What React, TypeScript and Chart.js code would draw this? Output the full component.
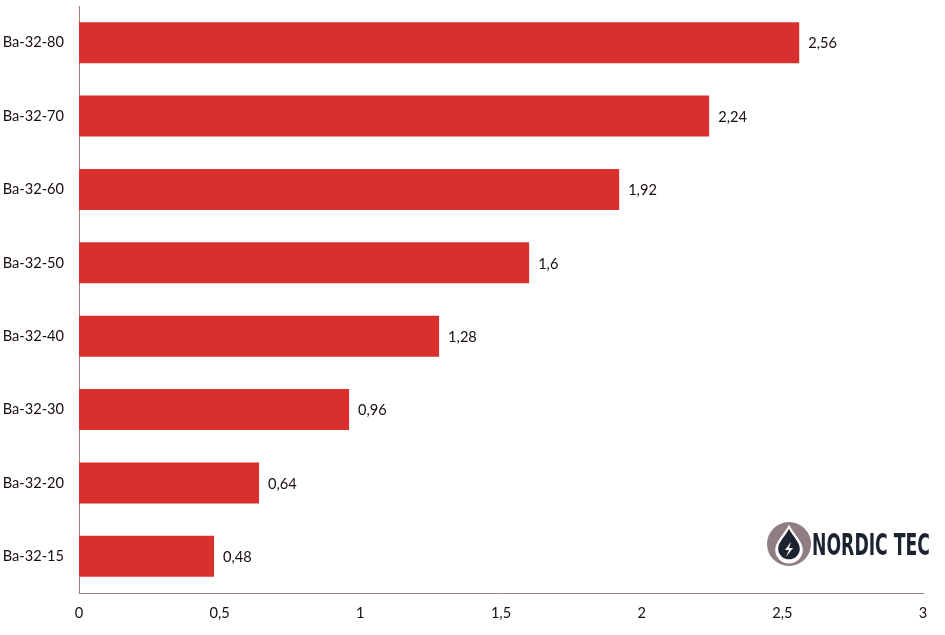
import React, { useEffect, useRef } from "react";
import { Chart, registerables } from "chart.js";

Chart.register(...registerables);

const categories = ["Ba-32-80", "Ba-32-70", "Ba-32-60", "Ba-32-50", "Ba-32-40", "Ba-32-30", "Ba-32-20", "Ba-32-15"];
const values = [2.56, 2.24, 1.92, 1.6, 1.28, 0.96, 0.64, 0.48];
const xMin = 0;
const xMax = 3;
const xStep = 0.5;
const logoText = "NORDIC TEC";

const fmt = (v: number) => String(v).replace(".", ",");

const FONT = "Lato, 'Open Sans', sans-serif";
const FSIZE = 14.6;

const valueLabels = {
  id: "valueLabels",
  afterDatasetsDraw(chart: any) {
    const { ctx } = chart;
    const meta = chart.getDatasetMeta(0);
    ctx.save();
    ctx.font = `${FSIZE}px ${FONT}`;
    ctx.fillStyle = "#1a0e0e";
    ctx.textAlign = "left";
    ctx.textBaseline = "middle";
    meta.data.forEach((bar: any, i: number) => {
      ctx.fillText(fmt(values[i]), bar.x + 9, bar.y + 1);
    });
    ctx.restore();
  },
};

const logo = {
  id: "logo",
  afterDraw(chart: any) {
    const { ctx } = chart;
    ctx.save();
    const cx = 789, cy = 544, r = 22;
    ctx.fillStyle = "#8f7c84";
    ctx.beginPath();
    ctx.arc(cx, cy, r, 0, Math.PI * 2);
    ctx.fill();
    const drop = (s: number, color: string) => {
      ctx.fillStyle = color;
      ctx.beginPath();
      ctx.moveTo(cx, cy - 17 * s);
      ctx.bezierCurveTo(cx + 4 * s, cy - 9 * s, cx + 12 * s, cy - 2 * s, cx + 12 * s, cy + 5 * s);
      ctx.arc(cx, cy + 5 * s, 12 * s, 0, Math.PI, false);
      ctx.bezierCurveTo(cx - 12 * s, cy - 2 * s, cx - 4 * s, cy - 9 * s, cx, cy - 17 * s);
      ctx.fill();
    };
    drop(1.15, "#ffffff");
    drop(0.9, "#1d2230");
    ctx.fillStyle = "#ffffff";
    ctx.beginPath();
    ctx.moveTo(cx + 2, cy - 2);
    ctx.lineTo(cx - 4, cy + 6);
    ctx.lineTo(cx, cy + 6);
    ctx.lineTo(cx - 3, cy + 13);
    ctx.lineTo(cx + 4, cy + 4);
    ctx.lineTo(cx, cy + 4);
    ctx.closePath();
    ctx.fill();
    ctx.font = `bold 31px 'DejaVu Sans Condensed', 'DejaVu Sans', sans-serif`;
    ctx.fillStyle = "#1d2230";
    ctx.textBaseline = "alphabetic";
    const w = ctx.measureText(logoText).width;
    const target = 118;
    ctx.translate(812, 555);
    ctx.scale(target / w, 1);
    ctx.fillText(logoText, 0, 0);
    ctx.restore();
  },
};

export default function App() {
  const ref = useRef<HTMLCanvasElement>(null);
  useEffect(() => {
    if (!ref.current) return;
    const chart = new Chart(ref.current, {
      type: "bar",
      data: {
        labels: categories,
        datasets: [
          {
            data: values,
            backgroundColor: "#d9302e",
            borderWidth: 0,
            categoryPercentage: 1,
            barPercentage: 0.56,
          },
        ],
      },
      options: {
        indexAxis: "y",
        animation: false,
        responsive: false,
        maintainAspectRatio: false,
        layout: { padding: { top: 6, right: 22, left: 0, bottom: 0 } },
        plugins: { legend: { display: false }, tooltip: { enabled: false } },
        scales: {
          x: {
            min: xMin,
            max: xMax,
            ticks: {
              stepSize: xStep,
              padding: 12,
              color: "#1a0e0e",
              font: { family: FONT, size: FSIZE },
              callback: (v: any) => fmt(Number(v)),
            },
            grid: { display: false, drawTicks: false },
            border: { display: true, color: "#a07e7e", width: 1 },
            afterFit: (s: any) => {
              s.height = 42;
              s.paddingLeft = 0;
              s.paddingRight = 0;
            },
          },
          y: {
            ticks: {
              padding: 15,
              color: "#1a0e0e",
              font: { family: FONT, size: FSIZE },
            },
            grid: { display: false, drawTicks: false },
            border: { display: true, color: "#a07e7e", width: 1 },
            afterFit: (s: any) => {
              s.width = 79;
              s.paddingTop = 0;
              s.paddingBottom = 0;
            },
          },
        },
      },
      plugins: [valueLabels, logo],
    });
    return () => chart.destroy();
  }, []);
  return (
    <div style={{ position: "fixed", left: 0, top: 0, width: 945, height: 635, background: "#fff" }}>
      <canvas ref={ref} width={945} height={635} style={{ width: 945, height: 635 }} />
    </div>
  );
}
